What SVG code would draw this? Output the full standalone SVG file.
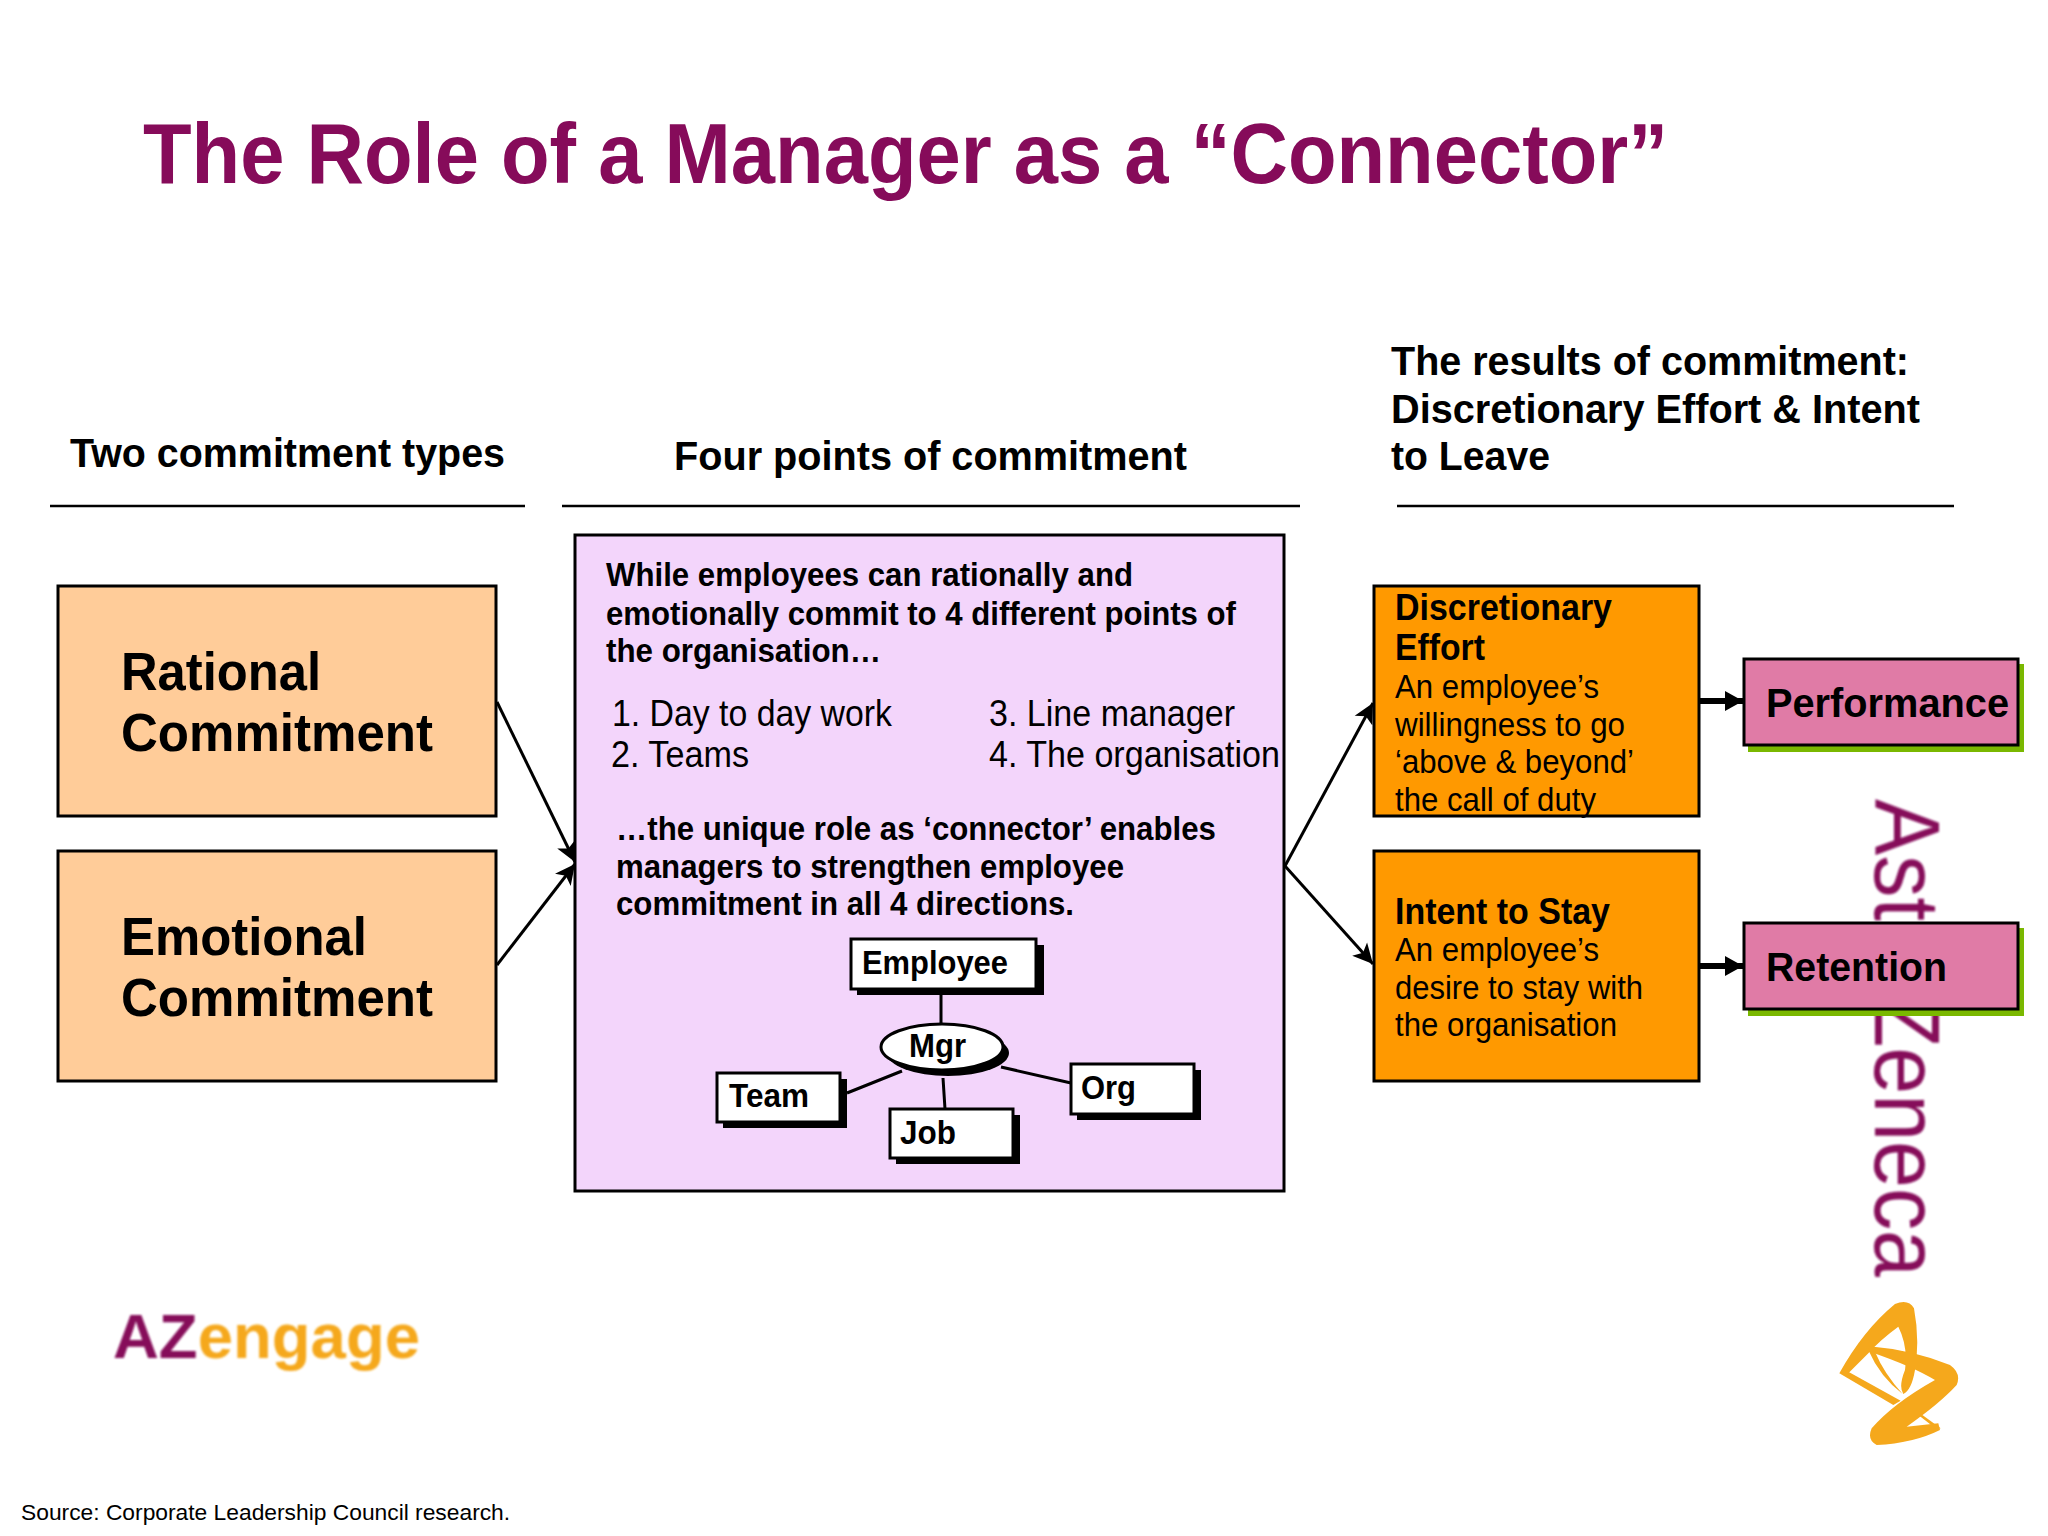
<svg xmlns="http://www.w3.org/2000/svg" width="2048" height="1536" viewBox="0 0 2048 1536">
<style>
text{font-family:"Liberation Sans",Arial,sans-serif;fill:#000}
.b{font-weight:700}
.hd{font-weight:700;font-size:40px}
.big{font-weight:700;font-size:54px}
.mid{font-weight:700;font-size:32.5px}
.li{font-size:36px}
.ot{font-size:33px}
.oh{font-weight:700;font-size:36px}
.pk{font-weight:700;font-size:41px}
.mini{font-weight:700;font-size:33px}
.box{stroke:#000;stroke-width:3}
.w{fill:#fff;stroke:#000;stroke-width:3}
.sh{fill:#000}
.ln{fill:none;stroke:#000;stroke-width:3}
.rule{stroke:#000;stroke-width:2.5}
.ar{fill:none;stroke:#000;stroke-width:3;marker-end:url(#ah)}
.tk{fill:none;stroke:#000;stroke-width:6;marker-end:url(#ahk)}
.logo{fill:#F5A81C}
</style>
<defs>
<marker id="ah" markerUnits="userSpaceOnUse" markerWidth="22" markerHeight="22" refX="20" refY="11" orient="auto"><path d="M0 1L20 11L0 21L5 11Z" fill="#000"/></marker>
<marker id="ahk" markerUnits="userSpaceOnUse" markerWidth="20" markerHeight="20" refX="18" refY="10" orient="auto"><path d="M0 0L18 10L0 20Z" fill="#000"/></marker>
<filter id="soft" x="-10%" y="-10%" width="120%" height="120%"><feGaussianBlur stdDeviation="0.9"/></filter>
</defs>
<rect width="2048" height="1536" fill="#fff"/>
<text id="title" x="143" y="183" class="b" font-size="86" textLength="1525" lengthAdjust="spacingAndGlyphs" style="fill:#860B5A">The Role of a Manager as a “Connector”</text>

<g id="headers">
<text x="70" y="467" class="hd" textLength="435" lengthAdjust="spacingAndGlyphs">Two commitment types</text>
<text x="674" y="470" class="hd" textLength="513" lengthAdjust="spacingAndGlyphs">Four points of commitment</text>
<text x="1391" y="375" class="hd" textLength="518" lengthAdjust="spacingAndGlyphs">The results of commitment:</text>
<text x="1391" y="423" class="hd" textLength="529" lengthAdjust="spacingAndGlyphs">Discretionary Effort &amp; Intent</text>
<text x="1391" y="470" class="hd" textLength="159" lengthAdjust="spacingAndGlyphs">to Leave</text>
<line class="rule" x1="50" y1="506" x2="525" y2="506"/>
<line class="rule" x1="562" y1="506" x2="1300" y2="506"/>
<line class="rule" x1="1397" y1="506" x2="1954" y2="506"/>
</g>

<g id="astrazeneca-logo">
<text transform="translate(1875,799) rotate(90)" font-size="93" textLength="478" lengthAdjust="spacingAndGlyphs" style="fill:#860B5A" filter="url(#soft)">AstraZeneca</text>
<g transform="translate(1780,1230) scale(.3333)" filter="url(#soft)">
<path class="logo" d="M178 430Q250 300 345 222Q385 205 402 235Q420 330 405 420Q395 480 370 492Q355 470 375 420Q385 350 355 290Q300 330 265 370L205 430Z"/>
<path class="logo" d="M178 430L205 425L362 512L340 525Z"/>
<path class="logo" d="M262 348Q400 360 510 405Q545 430 530 465Q480 520 380 590L475 580L480 600Q400 640 290 645Q260 630 275 595Q340 520 465 450Q400 410 270 365Z"/>
<path class="logo" d="M266 362Q300 440 368 492Q312 430 285 365Z"/>
<path class="logo" d="M415 555L424 553L482 595L470 598Z"/>
</g>
</g>

<g id="azengage-logo" filter="url(#soft)">
<text x="113" y="1358" class="b" font-size="63" textLength="307" lengthAdjust="spacingAndGlyphs"><tspan style="fill:#860B5A">AZ</tspan><tspan style="fill:#F5A81C">engage</tspan></text>
</g>

<g id="connectors">
<path class="ar" d="M497 702L575 862"/>
<path class="ar" d="M497 965L575 864"/>
<path class="ar" d="M1285 866L1373 703"/>
<path class="ar" d="M1285 866L1373 964"/>
<path class="tk" d="M1699 701L1743 701"/>
<path class="tk" d="M1699 966L1743 966"/>
</g>

<g id="rational">
<rect class="box" x="58" y="586" width="438" height="230" fill="#FFCC99"/>
<text class="big" x="121" y="690" textLength="200" lengthAdjust="spacingAndGlyphs">Rational</text>
<text class="big" x="121" y="751" textLength="312" lengthAdjust="spacingAndGlyphs">Commitment</text>
</g>
<g id="emotional">
<rect class="box" x="58" y="851" width="438" height="230" fill="#FFCC99"/>
<text class="big" x="121" y="955" textLength="246" lengthAdjust="spacingAndGlyphs">Emotional</text>
<text class="big" x="121" y="1016" textLength="312" lengthAdjust="spacingAndGlyphs">Commitment</text>
</g>

<g id="center-panel">
<rect class="box" x="575" y="535" width="709" height="656" fill="#F3D5FB"/>
<text class="mid" x="606" y="586" textLength="527" lengthAdjust="spacingAndGlyphs">While employees can rationally and</text>
<text class="mid" x="606" y="625" textLength="630" lengthAdjust="spacingAndGlyphs">emotionally commit to 4 different points of</text>
<text class="mid" x="606" y="662" textLength="275" lengthAdjust="spacingAndGlyphs">the organisation…</text>
<text class="li" x="612" y="726" textLength="280" lengthAdjust="spacingAndGlyphs">1. Day to day work</text>
<text class="li" x="611" y="767" textLength="138" lengthAdjust="spacingAndGlyphs">2. Teams</text>
<text class="li" x="989" y="726" textLength="246" lengthAdjust="spacingAndGlyphs">3. Line manager</text>
<text class="li" x="989" y="767" textLength="291" lengthAdjust="spacingAndGlyphs">4. The organisation</text>
<text class="mid" x="616" y="840" textLength="600" lengthAdjust="spacingAndGlyphs">…the unique role as ‘connector’ enables</text>
<text class="mid" x="616" y="878" textLength="508" lengthAdjust="spacingAndGlyphs">managers to strengthen employee</text>
<text class="mid" x="616" y="915" textLength="458" lengthAdjust="spacingAndGlyphs">commitment in all 4 directions.</text>
</g>

<g id="mini-connectors">
<path class="ln" d="M941 989V1024M847 1093L902 1071M943 1078L945 1109M1001 1067L1071 1083"/>
</g>
<g id="employee">
<rect class="sh" x="857" y="945" width="187" height="50"/>
<rect class="w" x="851" y="939" width="185" height="50"/>
<text class="mini" x="862" y="974" textLength="146" lengthAdjust="spacingAndGlyphs">Employee</text>
</g>
<g id="mgr">
<ellipse class="sh" cx="948" cy="1053" rx="61" ry="23"/>
<ellipse class="w" cx="942" cy="1047" rx="61" ry="23"/>
<text class="mini" x="909" y="1057" textLength="57" lengthAdjust="spacingAndGlyphs">Mgr</text>
</g>
<g id="team">
<rect class="sh" x="723" y="1079" width="124" height="49"/>
<rect class="w" x="717" y="1073" width="123" height="49"/>
<text class="mini" x="729" y="1107" textLength="80" lengthAdjust="spacingAndGlyphs">Team</text>
</g>
<g id="job">
<rect class="sh" x="896" y="1115" width="124" height="49"/>
<rect class="w" x="890" y="1109" width="123" height="49"/>
<text class="mini" x="900" y="1144" textLength="56" lengthAdjust="spacingAndGlyphs">Job</text>
</g>
<g id="org">
<rect class="sh" x="1077" y="1070" width="124" height="50"/>
<rect class="w" x="1071" y="1064" width="123" height="50"/>
<text class="mini" x="1081" y="1099" textLength="55" lengthAdjust="spacingAndGlyphs">Org</text>
</g>

<g id="discretionary">
<rect class="box" x="1374" y="586" width="325" height="230" fill="#FF9900"/>
<text class="oh" x="1395" y="620" textLength="217" lengthAdjust="spacingAndGlyphs">Discretionary</text>
<text class="oh" x="1395" y="660" textLength="90" lengthAdjust="spacingAndGlyphs">Effort</text>
<text class="ot" x="1395" y="698" textLength="204" lengthAdjust="spacingAndGlyphs">An employee’s</text>
<text class="ot" x="1395" y="736" textLength="230" lengthAdjust="spacingAndGlyphs">willingness to go</text>
<text class="ot" x="1395" y="773" textLength="239" lengthAdjust="spacingAndGlyphs">‘above &amp; beyond’</text>
<text class="ot" x="1395" y="811" textLength="201" lengthAdjust="spacingAndGlyphs">the call of duty</text>
</g>
<g id="intent">
<rect class="box" x="1374" y="851" width="325" height="230" fill="#FF9900"/>
<text class="oh" x="1395" y="924" textLength="215" lengthAdjust="spacingAndGlyphs">Intent to Stay</text>
<text class="ot" x="1395" y="961" textLength="204" lengthAdjust="spacingAndGlyphs">An employee’s</text>
<text class="ot" x="1395" y="999" textLength="248" lengthAdjust="spacingAndGlyphs">desire to stay with</text>
<text class="ot" x="1395" y="1036" textLength="222" lengthAdjust="spacingAndGlyphs">the organisation</text>
</g>
<g id="performance">
<rect x="1748" y="664" width="276" height="88" fill="#7AB800"/>
<rect class="box" x="1744" y="659" width="274" height="86" fill="#E07BA6"/>
<text class="pk" x="1766" y="717" textLength="243" lengthAdjust="spacingAndGlyphs">Performance</text>
</g>
<g id="retention">
<rect x="1748" y="928" width="276" height="88" fill="#7AB800"/>
<rect class="box" x="1744" y="923" width="274" height="86" fill="#E07BA6"/>
<text class="pk" x="1766" y="981" textLength="181" lengthAdjust="spacingAndGlyphs">Retention</text>
</g>
<text id="source" x="21" y="1520" font-size="22.8">Source: Corporate Leadership Council research.</text>
</svg>
